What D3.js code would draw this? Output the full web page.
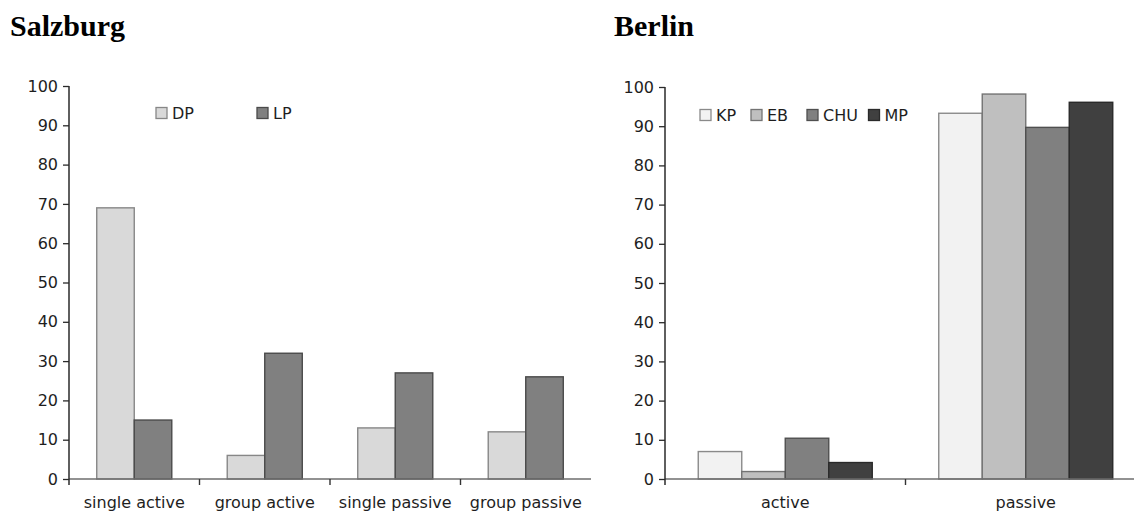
<!DOCTYPE html>
<html>
<head>
<meta charset="utf-8">
<script src="https://cdn.jsdelivr.net/npm/d3@7"></script>
<style>
  html, body { margin: 0; padding: 0; background: #fff; }
  svg { display: block; }
  .tick text, .lbl { font-family: "DejaVu Sans", sans-serif; font-size: 16px; fill: #1e1e1e; }
  .title { font-family: "Liberation Serif", "Times New Roman", serif; font-weight: bold; font-size: 30px; fill: #000; }
</style>
</head>
<body>
<svg id="chart" width="1134" height="512"></svg>
<script>
// ---- Data ----
const salzburgCategories = ["single active", "group active", "single passive", "group passive"];
const salzburgSeries = ["DP", "LP"];
const salzburgDP = [69, 6, 13, 12];
const salzburgLP = [15, 32, 27, 26];

const berlinCategories = ["active", "passive"];
const berlinSeries = ["KP", "EB", "CHU", "MP"];
const berlinKP = [7.0, 93.3];
const berlinEB = [1.9, 98.2];
const berlinCHU = [10.4, 89.7];
const berlinMP = [4.2, 96.1];

const yTicks = [0, 10, 20, 30, 40, 50, 60, 70, 80, 90, 100];

const svg = d3.select("#chart");

function drawPanel(cfg) {
  const g = svg.append("g");
  const x0 = d3.scaleBand().domain(cfg.categories).range([cfg.x0, cfg.x1]).padding(0);
  const n = cfg.series.length;
  const pOuter = (n / cfg.frac - n) / 2;
  const x1 = d3.scaleBand().domain(cfg.series).range([0, x0.bandwidth()]).paddingInner(0).paddingOuter(pOuter);
  const y = d3.scaleLinear().domain([0, 100]).range([cfg.yBottom, cfg.yTop]);

  // bars
  cfg.categories.forEach((c, ci) => {
    cfg.series.forEach((s, si) => {
      const v = cfg.values[si][ci];
      g.append("rect")
        .attr("x", x0(c) + x1(s))
        .attr("y", y(v))
        .attr("width", x1.bandwidth())
        .attr("height", y(0) - y(v))
        .attr("fill", cfg.fills[si])
        .attr("stroke", cfg.strokes[si])
        .attr("stroke-width", 1.4);
    });
  });

  // x axis line
  const xa = g.append("g").attr("transform", `translate(0,${y(0)})`)
    .call(d3.axisBottom(x0).tickSize(0).tickPadding(0).tickSizeOuter(0));
  xa.select(".domain").attr("stroke", "#6e6e6e").attr("stroke-width", 1.7)
    .attr("d", `M${cfg.x0},0H${cfg.x1}`);
  xa.selectAll(".tick text").attr("dy", 0).attr("y", 29);

  // category dividers
  cfg.categories.forEach((c, ci) => {
    if (ci === 0) return;
    g.append("line").attr("x1", x0(c)).attr("x2", x0(c))
      .attr("y1", y(0)).attr("y2", y(0) + 6)
      .attr("stroke", "#333").attr("stroke-width", 1.4);
  });

  // y axis
  const ya = g.append("g").attr("transform", `translate(${cfg.x0},0)`)
    .call(d3.axisLeft(y).tickValues(yTicks).tickSize(6).tickPadding(5).tickSizeOuter(0));
  ya.select(".domain").attr("stroke", "#2a2a2a").attr("stroke-width", 1.5)
    .attr("d", `M0,${cfg.yTop}V${cfg.yBottom + 6}`);
  ya.selectAll(".tick line").attr("stroke", "#2a2a2a").attr("stroke-width", 1.3);

  // legend
  cfg.series.forEach((s, si) => {
    g.append("rect")
      .attr("x", cfg.legendX[si]).attr("y", cfg.legendY)
      .attr("width", 11).attr("height", 11)
      .attr("fill", cfg.fills[si]).attr("stroke", cfg.strokes[si]).attr("stroke-width", 1.3);
    g.append("text").attr("class", "lbl")
      .attr("x", cfg.legendX[si] + 16).attr("y", cfg.legendY + 11.3)
      .text(s);
  });

  // title
  svg.append("text").attr("class", "title")
    .attr("x", cfg.titleX).attr("y", 36).text(cfg.title);
}

drawPanel({
  title: "Salzburg", titleX: 10,
  categories: salzburgCategories, series: salzburgSeries,
  values: [salzburgDP, salzburgLP],
  fills: ["#d9d9d9", "#808080"], strokes: ["#878787", "#4a4a4a"],
  x0: 69, x1: 591, yTop: 86, yBottom: 479, frac: 0.575,
  legendX: [156, 257], legendY: 107.5
});

drawPanel({
  title: "Berlin", titleX: 614,
  categories: berlinCategories, series: berlinSeries,
  values: [berlinKP, berlinEB, berlinCHU, berlinMP],
  fills: ["#f2f2f2", "#bfbfbf", "#808080", "#404040"],
  strokes: ["#8a8a8a", "#737373", "#4f4f4f", "#2a2a2a"],
  x0: 665, x1: 1146, yTop: 87, yBottom: 479, frac: 0.7235,
  legendX: [700, 751, 807, 868.5], legendY: 109.5
});
</script>
</body>
</html>
